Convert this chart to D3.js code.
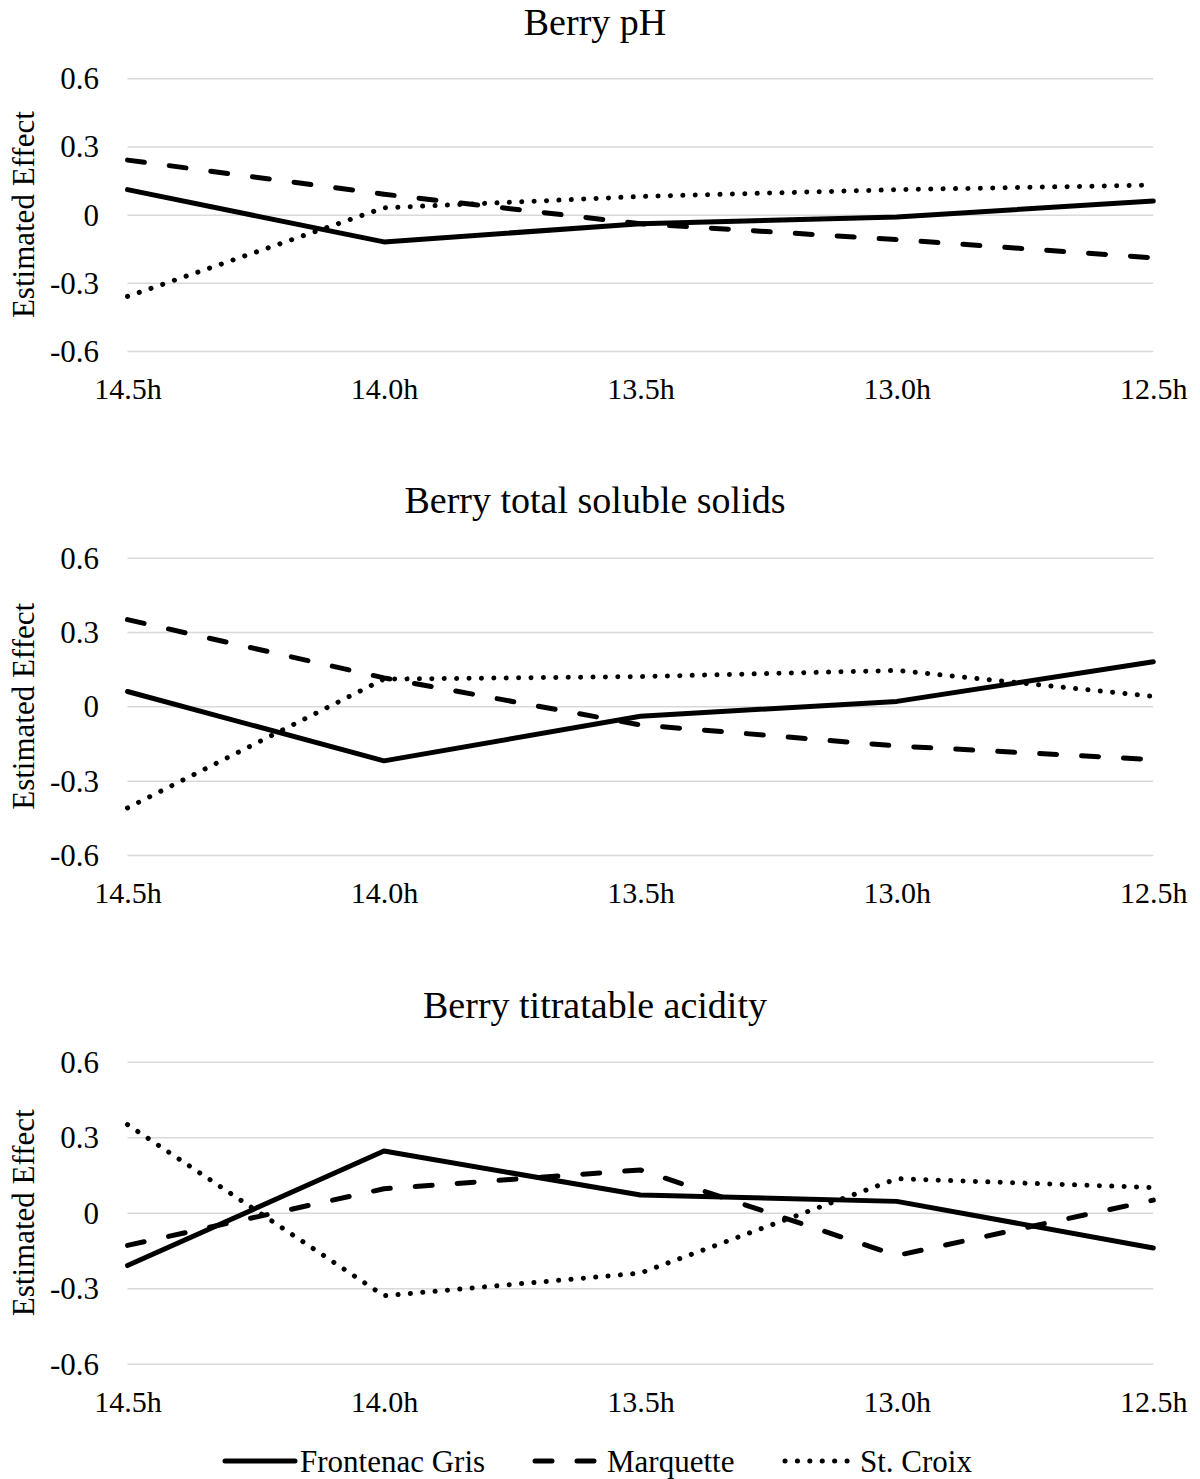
<!DOCTYPE html>
<html>
<head>
<meta charset="utf-8">
<script src="https://cdn.jsdelivr.net/npm/d3@7"></script>
<style>
  html, body { margin: 0; padding: 0; background: #ffffff; }
  svg { display: block; font-family: "Liberation Serif", "Times New Roman", serif; }
</style>
</head>
<body>
<svg id="chart" width="1200" height="1479"></svg>
<script>
// Photoperiod treatments on the x axis
const periods = ["14.5h", "14.0h", "13.5h", "13.0h", "12.5h"];
const cultivars = ["Frontenac Gris", "Marquette", "St. Croix"];
const yTicks = [-0.6, -0.3, 0, 0.3, 0.6];
const yTickLabels = ["-0.6", "-0.3", "0", "0.3", "0.6"];
const panelTitles = ["Berry pH", "Berry total soluble solids", "Berry titratable acidity"];
const yAxisTitle = "Estimated Effect";

// Estimated effects, one array per cultivar and trait
const phFrontenac = [0.11, -0.12, -0.04, -0.01, 0.06];
const phMarquette = [0.24, 0.09, -0.04, -0.11, -0.19];
const phStCroix   = [-0.36, 0.03, 0.08, 0.11, 0.13];

const tssFrontenac = [0.06, -0.22, -0.04, 0.02, 0.18];
const tssMarquette = [0.35, 0.115, -0.075, -0.16, -0.215];
const tssStCroix   = [-0.41, 0.11, 0.12, 0.145, 0.04];

const taFrontenac = [-0.21, 0.245, 0.07, 0.045, -0.14];
const taMarquette = [-0.13, 0.095, 0.17, -0.17, 0.05];
const taStCroix   = [0.35, -0.33, -0.24, 0.135, 0.10];

const panelSeries = [
  [phFrontenac, phMarquette, phStCroix],
  [tssFrontenac, tssMarquette, tssStCroix],
  [taFrontenac, taMarquette, taStCroix]
];

// Line styles per cultivar: solid, dashed, round dots
const lineStyles = [
  { dash: null, cap: "round" },
  { dash: "17 25", cap: "round" },
  { dash: "0.1 12.3", cap: "round" }
];
const strokeW = 5;

// Vertical extent of each plot (top / bottom gridline) and title/label baselines
const panelLayout = [
  { top: 78.3,  bottom: 351,    title: 35 },
  { top: 557.7, bottom: 855,    title: 513 },
  { top: 1061.7, bottom: 1363.7, title: 1018 }
];

const svg = d3.select("#chart");
const x = d3.scalePoint().domain(periods).range([127.5, 1153.3]);
const titleX = 595;

panelLayout.forEach((lay, pi) => {
  const y = d3.scaleLinear().domain([-0.6, 0.6]).range([lay.bottom, lay.top]);
  const g = svg.append("g");

  // Horizontal gridlines
  g.append("g")
    .attr("transform", "translate(0,0)")
    .call(d3.axisLeft(y).tickValues(yTicks).tickSize(-(x.range()[1] - x.range()[0])).tickFormat(""))
    .attr("transform", `translate(${x.range()[0]},0)`)
    .call(a => a.select(".domain").remove())
    .call(a => a.selectAll(".tick line").attr("stroke", "#d9d9d9").attr("stroke-width", 1.5));

  // Y tick labels
  g.selectAll("text.ylab")
    .data(yTicks)
    .join("text")
    .attr("class", "ylab")
    .attr("x", 99)
    .attr("y", d => y(d))
    .attr("dy", "0.35em")
    .attr("text-anchor", "end")
    .attr("font-size", 31)
    .attr("fill", "#000")
    .text((d, i) => yTickLabels[i]);

  // X tick labels
  g.append("g")
    .attr("transform", `translate(0,${lay.bottom})`)
    .call(d3.axisBottom(x).tickSize(0).tickPadding(0))
    .call(a => a.select(".domain").remove())
    .call(a => a.selectAll(".tick text")
      .attr("y", 48).attr("dy", 0)
      .attr("font-size", 30)
      .attr("font-family", "Liberation Serif, Times New Roman, serif")
      .attr("fill", "#000"));

  // Y axis title
  const yMid = y(0);
  g.append("text")
    .attr("transform", `translate(23,${yMid}) rotate(-90)`)
    .attr("text-anchor", "middle")
    .attr("dy", "0.35em")
    .attr("font-size", 31)
    .attr("fill", "#000")
    .text(yAxisTitle);

  // Panel title
  g.append("text")
    .attr("x", titleX)
    .attr("y", lay.title)
    .attr("text-anchor", "middle")
    .attr("font-size", 38)
    .attr("fill", "#000")
    .text(panelTitles[pi]);

  // Series lines
  const line = d3.line()
    .x((d, i) => x(periods[i]))
    .y(d => y(d));

  panelSeries[pi].forEach((vals, si) => {
    const st = lineStyles[si];
    g.append("path")
      .datum(vals)
      .attr("d", line)
      .attr("fill", "none")
      .attr("stroke", "#000")
      .attr("stroke-width", strokeW)
      .attr("stroke-linejoin", "round")
      .attr("stroke-linecap", st.cap)
      .attr("stroke-dasharray", st.dash);
  });
});

// Legend
const legendY = 1461;
const legendItems = [
  { x0: 225, x1: 295, tx: 300 },
  { x0: 535, x1: 598, tx: 607 },
  { x0: 785, x1: 853, tx: 860 }
];
const lg = svg.append("g");
cultivars.forEach((name, i) => {
  const it = legendItems[i];
  const st = lineStyles[i];
  lg.append("line")
    .attr("x1", it.x0).attr("x2", it.x1)
    .attr("y1", legendY).attr("y2", legendY)
    .attr("stroke", "#000")
    .attr("stroke-width", strokeW)
    .attr("stroke-linecap", st.cap)
    .attr("stroke-dasharray", st.dash);
  lg.append("text")
    .attr("x", it.tx)
    .attr("y", legendY + 11)
    .attr("font-size", 31)
    .attr("fill", "#000")
    .text(name);
});
</script>
</body>
</html>
